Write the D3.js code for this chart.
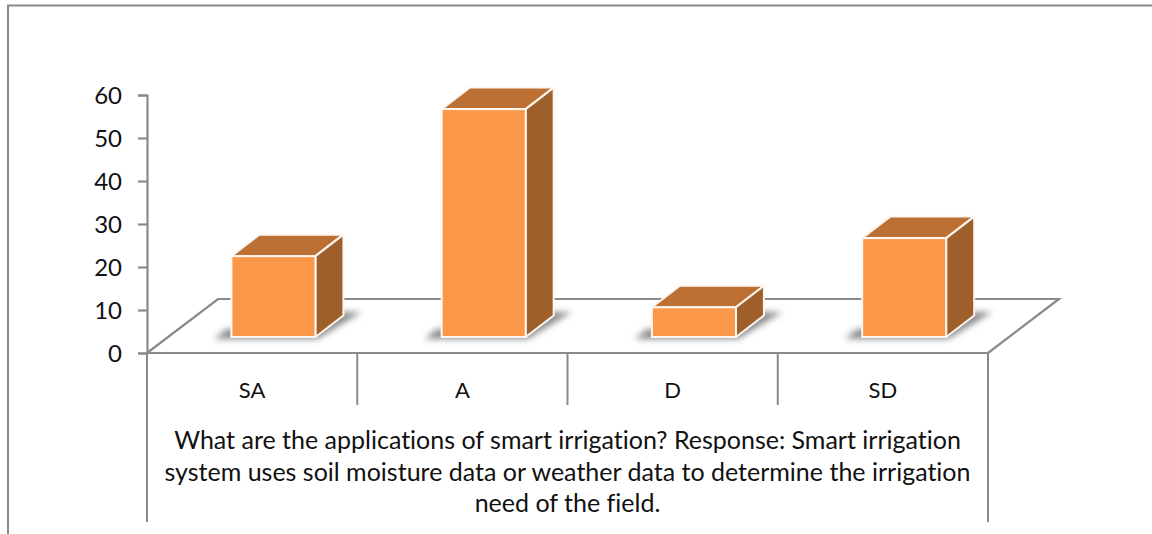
<!DOCTYPE html>
<html>
<head>
<meta charset="utf-8">
<style>
  html, body { margin: 0; padding: 0; background: #fff; }
  svg { display: block; }
  text { font-family: Lato, "Open Sans", sans-serif; fill: #111; font-variant-ligatures: none; }
</style>
<script src="https://cdn.jsdelivr.net/npm/d3@7"></script>
</head>
<body>
<svg id="chart" width="1152" height="534"></svg>
<script>
'use strict'

const categories = ['SA', 'A', 'D', 'SD']
const values = [18.8, 53, 6.9, 23]
const yTicks = [0, 10, 20, 30, 40, 50, 60]
const captionLines = [
  'What are the applications of smart irrigation? Response: Smart irrigation',
  'system uses soil moisture data or weather data to determine the irrigation',
  'need of the field.'
]

const axisColor = '#8a8a8a'
const plot = { left: 147, right: 988, top: 95, bottom: 353 }
const floorDepth = { x: 71, y: -54 }
const barDepth = { x: 28, y: -21.5 }
const barLift = 16
const barOffset = 21.3
const barWidth = 84

const svg = d3.select('#chart')

const x = d3.scaleBand().domain(categories).range([plot.left, plot.right])
const y = d3.scaleLinear().domain([0, 60]).range([plot.bottom, plot.top])

const defs = svg.append('defs')
defs.append('filter').attr('id', 'blur')
  .attr('x', '-20%').attr('y', '-40%').attr('width', '140%').attr('height', '180%')
  .append('feGaussianBlur').attr('stdDeviation', 3)

// page frame, only left and top are visible
svg.append('path')
  .attr('d', 'M8 534V5.5H1152')
  .attr('fill', 'none')
  .attr('stroke', axisColor)
  .attr('stroke-width', 2)

// floor
const floorY = plot.bottom + floorDepth.y
svg.append('path')
  .attr('d', `M${plot.left} ${plot.bottom}L${plot.left + floorDepth.x} ${floorY}H${plot.right + floorDepth.x}L${plot.right} ${plot.bottom}`)
  .attr('fill', 'none')
  .attr('stroke', axisColor)
  .attr('stroke-width', 2.2)

// y axis
const yAxis = d3.axisLeft(y).tickValues(yTicks).tickSize(9).tickPadding(16)
const gY = svg.append('g')
  .attr('transform', `translate(${plot.left},0)`)
  .call(yAxis)
gY.select('.domain').attr('stroke', axisColor).attr('stroke-width', 2.2)
gY.selectAll('.tick line').attr('stroke', axisColor).attr('stroke-width', 2.2)
gY.selectAll('.tick text')
  .attr('fill', '#111')
  .attr('y', 1)
  .style('font-family', 'Lato, "Open Sans", sans-serif')
  .style('font-size', '24px')

// category axis
svg.append('line')
  .attr('x1', plot.left).attr('x2', plot.right)
  .attr('y1', plot.bottom).attr('y2', plot.bottom)
  .attr('stroke', axisColor).attr('stroke-width', 2.2)

const tickXs = categories.map(d => x(d)).concat(plot.right)
svg.selectAll('.cat-tick')
  .data(tickXs)
  .join('line')
  .attr('class', 'cat-tick')
  .attr('x1', d => d).attr('x2', d => d)
  .attr('y1', plot.bottom)
  .attr('y2', (d, i) => (i === 0 || i === categories.length) ? 522 : 405)
  .attr('stroke', axisColor)
  .attr('stroke-width', 2)

svg.selectAll('.cat-label')
  .data(categories)
  .join('text')
  .attr('class', 'cat-label')
  .attr('x', d => x(d) + x.bandwidth() / 2)
  .attr('y', 398)
  .attr('text-anchor', 'middle')
  .style('font-size', '22px')
  .text(d => d)

svg.selectAll('.caption')
  .data(captionLines)
  .join('text')
  .attr('class', 'caption')
  .attr('x', (plot.left + plot.right) / 2)
  .attr('y', (d, i) => 449 + i * 31.5)
  .attr('text-anchor', 'middle')
  .style('font-size', '25px')
  .text(d => d)

// bars
const baseY = plot.bottom - barLift
const bars = svg.selectAll('.bar')
  .data(categories.map((c, i) => ({ c, v: values[i] })))
  .join('g')
  .attr('class', 'bar')
  .attr('transform', d => `translate(${x(d.c) + x.bandwidth() / 2 + barOffset - barWidth / 2},0)`)

const topY = d => y(d.v) - barLift

bars.append('path')
  .attr('d', `M-17 ${baseY + 2}H${barWidth + 2}L${barWidth + 46} ${baseY - 25}H${barWidth}L${barWidth - 40} ${baseY - 8}H-5Z`)
  .attr('fill', '#8c8c8c')
  .attr('filter', 'url(#blur)')

bars.append('path')
  .attr('d', d => `M0 ${topY(d)}l${barDepth.x} ${barDepth.y}h${barWidth}l${-barDepth.x} ${-barDepth.y}Z`)
  .attr('fill', '#bc7034')
  .attr('stroke', '#fdf6f0').attr('stroke-width', 2).attr('stroke-linejoin', 'round')

bars.append('path')
  .attr('d', d => `M${barWidth} ${topY(d)}l${barDepth.x} ${barDepth.y}V${baseY + barDepth.y}L${barWidth} ${baseY}Z`)
  .attr('fill', '#9e5f2b')
  .attr('stroke', '#fdf6f0').attr('stroke-width', 2).attr('stroke-linejoin', 'round')

bars.append('rect')
  .attr('x', 0)
  .attr('y', topY)
  .attr('width', barWidth)
  .attr('height', d => baseY - topY(d))
  .attr('fill', '#fa9748')
  .attr('stroke', '#fdf6f0').attr('stroke-width', 2)
</script>
</body>
</html>
